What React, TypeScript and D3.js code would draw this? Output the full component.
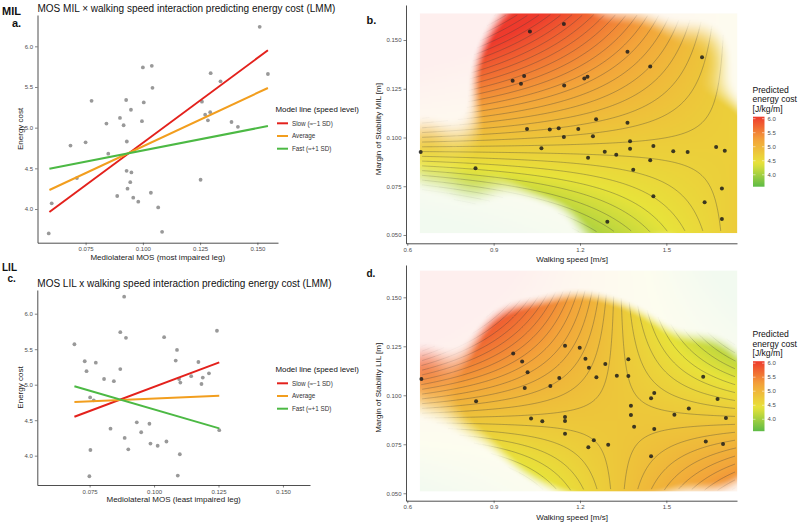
import React, { useEffect, useRef } from 'react';
import * as d3 from 'd3';

// ---------- panel a: MOS of most impaired leg vs energy cost ----------
const mosMil = [
  0.151, 0.1546, 0.1296, 0.1339, 0.1039, 0.1, 0.1042, 0.0776, 0.0927, 0.1004,
  0.0948, 0.1258, 0.1272, 0.1294, 0.1284, 0.09, 0.0841, 0.0916, 0.0996, 0.1387,
  0.1415, 0.093, 0.075, 0.0684, 0.0849, 0.0712, 0.0929, 0.095, 0.0945, 0.0933,
  0.1252, 0.0888, 0.0958, 0.098, 0.1035, 0.0602, 0.1067, 0.0589, 0.1084,
];
const energyMil = [
  6.24, 5.66, 5.67, 5.57, 5.76, 5.74, 5.49, 5.33, 5.34, 5.31,
  5.22, 5.32, 5.16, 5.19, 5.09, 5.12, 5.05, 5.03, 5.08, 5.07,
  5.01, 4.83, 4.82, 4.78, 4.68, 4.38, 4.47, 4.45, 4.33, 4.25,
  4.36, 4.16, 4.14, 4.09, 4.2, 4.07, 4.02, 3.7, 3.72,
];

// ---------- panel c: MOS of least impaired leg vs energy cost ----------
const mosLil = [
  0.0884, 0.0869, 0.0891, 0.1039, 0.1244, 0.0691, 0.1089, 0.0731, 0.1084, 0.0774,
  0.0738, 0.0869, 0.1172, 0.0806, 0.0844, 0.1144, 0.1189, 0.1213, 0.1097, 0.1102,
  0.1184, 0.0752, 0.0766, 0.0831, 0.0933, 0.0982, 0.095, 0.0886, 0.1253, 0.0986,
  0.1014, 0.1048, 0.0753, 0.09, 0.11, 0.0749, 0.1092,
];
const energyLil = [
  6.24, 5.74, 5.66, 5.67, 5.76, 5.57, 5.49, 5.33, 5.34, 5.31,
  5.19, 5.22, 5.32, 5.08, 5.05, 5.12, 5.1, 5.16, 5.08, 5.03,
  5.01, 4.82, 4.78, 4.38, 4.47, 4.45, 4.33, 4.25, 4.36, 4.17,
  4.14, 4.2, 4.08, 4.09, 4.02, 3.71, 3.72,
];

// model lines (speed levels)
const lineLabels = ['Slow (≈−1 SD)', 'Average', 'Fast (≈+1 SD)'];
const lineColors = ['#e3211c', '#f29e1e', '#4cb944'];
const milLineMos = [0.0592, 0.1546];
const milLineEnergy = [
  [3.963, 5.951],
  [4.234, 5.488],
  [4.496, 5.02],
];
const lilLineMos = [0.0691, 0.1253];
const lilLineEnergy = [
  [4.549, 5.315],
  [4.756, 4.845],
  [4.977, 4.385],
];

// ---------- panel b: speed vs MOS MIL ----------
const speedB = [
  1.144, 1.026, 1.365, 1.624, 1.444, 0.966, 1.006, 0.995, 1.215, 1.226,
  1.145, 1.256, 1.365, 1.016, 1.095, 1.126, 1.194, 1.245, 1.144, 1.066,
  1.374, 1.374, 1.455, 1.286, 1.326, 1.228, 0.6465, 1.524, 1.574, 1.673,
  1.703, 1.444, 1.385, 0.837, 1.693, 1.455, 1.633, 1.295, 1.693,
];
const mosB = [
  0.1582, 0.1543, 0.144, 0.1412, 0.1364, 0.1291, 0.1315, 0.1276, 0.1303, 0.1311,
  0.1267, 0.1094, 0.1075, 0.1044, 0.1041, 0.1048, 0.1043, 0.1007, 0.1003, 0.0945,
  0.0981, 0.0942, 0.0957, 0.0927, 0.0912, 0.0896, 0.0925, 0.0929, 0.0925, 0.0951,
  0.0932, 0.0883, 0.0835, 0.0842, 0.0738, 0.0699, 0.0668, 0.0568, 0.0582,
];

// ---------- panel d: speed vs MOS LIL ----------
const speedD = [
  0.649, 0.839, 0.968, 0.999, 1.018, 1.008, 1.097, 1.128, 1.148, 1.199,
  1.219, 1.231, 1.288, 1.257, 1.328, 1.368, 1.368, 1.03, 1.069, 1.148,
  1.148, 1.148, 1.248, 1.229, 1.298, 1.377, 1.377, 1.388, 1.447, 1.458,
  1.458, 1.447, 1.528, 1.578, 1.628, 1.678, 1.707, 1.637, 1.697,
];
const mosD = [
  0.1083, 0.0969, 0.1213, 0.1172, 0.1117, 0.1037, 0.1048, 0.1088, 0.1253, 0.1243,
  0.1187, 0.1141, 0.116, 0.1092, 0.11, 0.1184, 0.1099, 0.0881, 0.0867, 0.0889,
  0.0869, 0.0804, 0.077, 0.0735, 0.0747, 0.0947, 0.09, 0.084, 0.0985, 0.1012,
  0.0828, 0.0689, 0.0901, 0.0932, 0.1095, 0.0981, 0.0884, 0.0764, 0.0752,
];

// fitted interaction surfaces: energy = f0 + k (speed - s0)(mos - m0)
const milSurface = { f0: 4.686, s0: 1.72, m0: 0.094, k: -30.7 };
const lilSurface = { f0: 4.791, s0: 1.33, m0: 0.0872, k: -48.3 };

const colorDomain = [3.575, 4.42, 5.24, 6.07];
const colorRange = ['#5dbb46', '#e8e33a', '#f3a43a', '#ee3a2c'];
const colorTicks = [4.0, 4.5, 5.0, 5.5, 6.0];

const FONT = 'Liberation Sans, Arial, sans-serif';

type Sel = d3.Selection<SVGGElement, unknown, null, undefined>;
type Model = { f0: number; s0: number; m0: number; k: number };

function styleAxis(g: Sel) {
  g.select('.domain').attr('stroke', '#222').attr('stroke-width', 0.8);
  g.selectAll('.tick line').attr('stroke', '#333').attr('stroke-width', 0.6);
  g.selectAll('.tick text')
    .attr('fill', '#4d4d4d')
    .style('font-family', FONT)
    .style('font-size', '6px');
}

function drawScatterPanel(
  root: Sel,
  o: {
    mos: number[];
    energy: number[];
    lineMos: number[];
    lineEnergy: number[][];
    xr: [number, number];
    yr: [number, number];
    xd: [number, number];
    yd: [number, number];
    title: string;
    xLabel: string;
    legendY: number;
  }
) {
  const x = d3.scaleLinear().domain(o.xd).range(o.xr);
  const y = d3.scaleLinear().domain(o.yd).range(o.yr);
  const g = root.append('g');

  g.append('g')
    .attr('transform', `translate(0,${o.yr[0]})`)
    .call(
      d3
        .axisBottom(x)
        .tickValues([0.075, 0.1, 0.125, 0.15])
        .tickFormat(d3.format('.3f'))
        .tickSize(2.5)
        .tickSizeOuter(0)
        .tickPadding(2)
    )
    .call(styleAxis);

  g.append('g')
    .attr('transform', `translate(${o.xr[0]},0)`)
    .call(
      d3
        .axisLeft(y)
        .tickValues([4.0, 4.5, 5.0, 5.5, 6.0])
        .tickFormat(d3.format('.1f'))
        .tickSize(2.5)
        .tickSizeOuter(0)
        .tickPadding(2)
    )
    .call(styleAxis);

  g.append('g')
    .selectAll('circle')
    .data(o.mos)
    .join('circle')
    .attr('cx', (d) => x(d))
    .attr('cy', (_, i) => y(o.energy[i]))
    .attr('r', 1.9)
    .attr('fill', '#999');

  const line = d3
    .line<number>()
    .x((_, i) => x(o.lineMos[i]))
    .y((d) => y(d));
  g.append('g')
    .selectAll('path')
    .data(o.lineEnergy)
    .join('path')
    .attr('d', (d) => line(d))
    .attr('fill', 'none')
    .attr('stroke', (_, i) => lineColors[i])
    .attr('stroke-width', 2);

  // titles
  g.append('text')
    .attr('x', o.xr[0])
    .attr('y', o.yr[1] - 3)
    .style('font-family', FONT)
    .style('font-size', '10px')
    .attr('fill', '#111')
    .text(o.title);
  g.append('text')
    .attr('x', (o.xr[0] + o.xr[1]) / 2)
    .attr('y', o.yr[0] + 17)
    .attr('text-anchor', 'middle')
    .style('font-family', FONT)
    .style('font-size', '8px')
    .attr('fill', '#222')
    .text(o.xLabel);
  const midY = (o.yr[0] + o.yr[1]) / 2;
  g.append('text')
    .attr('transform', `translate(23,${midY}) rotate(-90)`)
    .attr('text-anchor', 'middle')
    .style('font-family', FONT)
    .style('font-size', '8px')
    .attr('fill', '#222')
    .text('Energy cost');

  // legend
  const lg = g.append('g').attr('transform', `translate(275.5,${o.legendY})`);
  lg.append('text')
    .attr('x', 0)
    .attr('y', 3)
    .style('font-family', FONT)
    .style('font-size', '7.9px')
    .attr('fill', '#111')
    .text('Model line (speed level)');
  lineLabels.forEach((lab, i) => {
    const yy = 14.3 + i * 12.7;
    lg.append('line')
      .attr('x1', 1.5)
      .attr('x2', 12.5)
      .attr('y1', yy)
      .attr('y2', yy)
      .attr('stroke', lineColors[i])
      .attr('stroke-width', 2);
    lg.append('text')
      .attr('x', 16.5)
      .attr('y', yy + 2.2)
      .style('font-family', FONT)
      .style('font-size', '6.3px')
      .attr('fill', '#333')
      .text(lab);
  });
}

// kernel density of the observations, used to fade the prediction away from the data
function makeDensity(speeds: number[], moss: number[]) {
  const hs = 0.09;
  const hm = 0.016;
  return (s: number, m: number) => {
    let dens = 0;
    for (let p = 0; p < speeds.length; p++) {
      const a = (s - speeds[p]) / hs;
      const b = (m - moss[p]) / hm;
      dens += Math.exp(-0.5 * (a * a + b * b));
    }
    return dens;
  };
}

function smooth(t: number) {
  const c = Math.min(1, Math.max(0, t));
  return c * c * (3 - 2 * c);
}

function fadeAlpha(dens: number) {
  return 0.08 + 0.92 * smooth((dens - 0.5) / 0.75);
}

function lineAlpha(dens: number) {
  return smooth((dens - 0.45) / 0.85);
}

function predict(model: Model, s: number, m: number) {
  return model.f0 + model.k * (s - model.s0) * (m - model.m0);
}

function buildSurface(
  model: Model,
  dens: (s: number, m: number) => number,
  ext: { s0: number; s1: number; m0: number; m1: number },
  nx: number,
  ny: number,
  color: (v: number) => string
) {
  const fill = document.createElement('canvas');
  fill.width = nx;
  fill.height = ny;
  const fctx = fill.getContext('2d')!;
  const fimg = fctx.createImageData(nx, ny);
  const values: number[] = new Array(nx * ny);
  for (let j = 0; j < ny; j++) {
    const m = ext.m1 - ((j + 0.5) / ny) * (ext.m1 - ext.m0);
    for (let i = 0; i < nx; i++) {
      const s = ext.s0 + ((i + 0.5) / nx) * (ext.s1 - ext.s0);
      const f = predict(model, s, m);
      const idx = j * nx + i;
      values[idx] = f;
      const al = fadeAlpha(dens(s, m));
      const c = d3.rgb(color(f));
      // blend over the white page so the image itself is opaque
      fimg.data[idx * 4] = Math.round(255 - al * (255 - c.r));
      fimg.data[idx * 4 + 1] = Math.round(255 - al * (255 - c.g));
      fimg.data[idx * 4 + 2] = Math.round(255 - al * (255 - c.b));
      fimg.data[idx * 4 + 3] = 255;
    }
  }
  fctx.putImageData(fimg, 0, 0);
  return { fillUrl: fill.toDataURL(), values };
}

function drawSurfacePanel(
  root: Sel,
  defs: d3.Selection<SVGDefsElement, unknown, null, undefined>,
  o: {
    id: string;
    model: Model;
    speeds: number[];
    moss: number[];
    yr: [number, number];
    yd: [number, number];
    yLabel: string;
    legendTop: number;
  }
) {
  const x = d3.scaleLinear().domain([0.5955, 1.7455]).range([406, 737]);
  const y = d3.scaleLinear().domain(o.yd).range(o.yr);
  const color = d3
    .scaleLinear<string>()
    .domain(colorDomain)
    .range(colorRange)
    .interpolate(d3.interpolateRgb)
    .clamp(true);
  const ext = { s0: 0.644, s1: 1.746, m0: 0.051, m1: 0.1636 };
  const nx = 220;
  const ny = 150;
  const dens = makeDensity(o.speeds, o.moss);
  const surf = buildSurface(o.model, dens, ext, nx, ny, color);
  const rx0 = x(ext.s0);
  const rx1 = x(ext.s1);
  const ry0 = y(ext.m1);
  const ry1 = y(ext.m0);
  const g = root.append('g');

  g.append('image')
    .attr('href', surf.fillUrl)
    .attr('x', rx0)
    .attr('y', ry0)
    .attr('width', rx1 - rx0)
    .attr('height', ry1 - ry0)
    .attr('preserveAspectRatio', 'none');

  // contour lines of the prediction, fading out where the data thin out
  const levels = d3.range(-30, 31).map((i) => o.model.f0 + 0.04 + i * 0.08);
  const contours = d3.contours().size([nx, ny]).thresholds(levels)(surf.values);
  type Seg = { pts: [number, number][]; op: number };
  const segs: Seg[] = [];
  contours.forEach((c) =>
    c.coordinates.forEach((poly) =>
      poly.forEach((ring) => {
        let cur: Seg | null = null;
        const flush = () => {
          if (cur && cur.pts.length > 1) segs.push(cur);
          cur = null;
        };
        ring.forEach(([gx, gy]) => {
          const inside = gx > 0.7 && gx < nx - 0.7 && gy > 0.7 && gy < ny - 0.7;
          const s = ext.s0 + (gx / nx) * (ext.s1 - ext.s0);
          const m = ext.m1 - (gy / ny) * (ext.m1 - ext.m0);
          const q = inside ? Math.round(lineAlpha(dens(s, m)) * 10) / 10 : 0;
          if (q <= 0) {
            flush();
            return;
          }
          const p: [number, number] = [x(s), y(m)];
          if (cur && cur.op === q) {
            cur.pts.push(p);
            return;
          }
          if (cur) {
            cur.pts.push(p);
            flush();
          }
          cur = { pts: [p], op: q };
        });
        flush();
      })
    )
  );
  g.append('g')
    .selectAll('path')
    .data(segs)
    .join('path')
    .attr('d', (d) => d3.line()(d.pts))
    .attr('fill', 'none')
    .attr('stroke', '#3c3c3c')
    .attr('stroke-opacity', (d) => 0.58 * d.op)
    .attr('stroke-width', 0.6);

  g.append('g')
    .selectAll('circle')
    .data(o.speeds)
    .join('circle')
    .attr('cx', (d) => x(d))
    .attr('cy', (_, i) => y(o.moss[i]))
    .attr('r', 2)
    .attr('fill', '#1c1c1c')
    .attr('fill-opacity', 0.85);

  g.append('g')
    .attr('transform', `translate(0,${o.yr[0]})`)
    .call(
      d3
        .axisBottom(x)
        .tickValues([0.6, 0.9, 1.2, 1.5])
        .tickFormat(d3.format('.1f'))
        .tickSize(2.5)
        .tickSizeOuter(0)
        .tickPadding(2)
    )
    .call(styleAxis);
  g.append('g')
    .attr('transform', 'translate(406,0)')
    .call(
      d3
        .axisLeft(y)
        .tickValues([0.05, 0.075, 0.1, 0.125, 0.15])
        .tickFormat(d3.format('.3f'))
        .tickSize(2.5)
        .tickSizeOuter(0)
        .tickPadding(2)
    )
    .call(styleAxis);

  g.append('text')
    .attr('x', 572)
    .attr('y', o.yr[0] + 19)
    .attr('text-anchor', 'middle')
    .style('font-family', FONT)
    .style('font-size', '8px')
    .attr('fill', '#222')
    .text('Walking speed [m/s]');
  g.append('text')
    .attr('transform', `translate(381,${(o.yr[0] + o.yr[1]) / 2 + 5}) rotate(-90)`)
    .attr('text-anchor', 'middle')
    .style('font-family', FONT)
    .style('font-size', '8px')
    .attr('fill', '#222')
    .text(o.yLabel);

  // colour legend
  const lt = o.legendTop;
  ['Predicted', 'energy cost', '[J/kg/m]'].forEach((t, i) => {
    g.append('text')
      .attr('x', 752.5)
      .attr('y', lt + i * 9.6)
      .style('font-family', FONT)
      .style('font-size', '8.6px')
      .attr('fill', '#111')
      .text(t);
  });
  const barTop = lt + 24.2;
  const barBottom = barTop + 70;
  const by = d3.scaleLinear().domain([colorDomain[0], colorDomain[3]]).range([barBottom, barTop]);
  const grad = defs
    .append('linearGradient')
    .attr('id', `${o.id}-grad`)
    .attr('x1', 0)
    .attr('x2', 0)
    .attr('y1', 1)
    .attr('y2', 0);
  d3.range(0, 1.0001, 0.05).forEach((t) => {
    const v = colorDomain[0] + t * (colorDomain[3] - colorDomain[0]);
    grad.append('stop').attr('offset', t).attr('stop-color', color(v));
  });
  g.append('rect')
    .attr('x', 753)
    .attr('y', barTop)
    .attr('width', 11.5)
    .attr('height', barBottom - barTop)
    .attr('fill', `url(#${o.id}-grad)`);
  colorTicks.forEach((v) => {
    g.append('line')
      .attr('x1', 753)
      .attr('x2', 755.5)
      .attr('y1', by(v))
      .attr('y2', by(v))
      .attr('stroke', '#fff')
      .attr('stroke-width', 0.5);
    g.append('line')
      .attr('x1', 762)
      .attr('x2', 764.5)
      .attr('y1', by(v))
      .attr('y2', by(v))
      .attr('stroke', '#fff')
      .attr('stroke-width', 0.5);
    g.append('text')
      .attr('x', 767.5)
      .attr('y', by(v) + 2.1)
      .style('font-family', FONT)
      .style('font-size', '6px')
      .attr('fill', '#4d4d4d')
      .text(d3.format('.1f')(v));
  });
}

function panelLabel(root: Sel, x: number, y: number, t: string, size: number) {
  root
    .append('text')
    .attr('x', x)
    .attr('y', y)
    .style('font-family', FONT)
    .style('font-size', `${size}px`)
    .style('font-weight', 'bold')
    .attr('fill', '#111')
    .text(t);
}

const App: React.FC = () => {
  const svgRef = useRef<SVGSVGElement>(null);

  useEffect(() => {
    if (!svgRef.current) return;
    document.body.style.margin = '0';
    const svg = d3.select(svgRef.current);
    svg.selectAll('*').remove();
    const defs = svg.append('defs');
    const root = svg.append('g') as unknown as Sel;

    drawScatterPanel(root, {
      mos: mosMil,
      energy: energyMil,
      lineMos: milLineMos,
      lineEnergy: milLineEnergy,
      xr: [37.5, 278],
      yr: [242.7, 15],
      xd: [0.054, 0.159],
      yd: [3.586, 6.385],
      title: 'MOS MIL × walking speed interaction predicting energy cost (LMM)',
      xLabel: 'Mediolateral MOS (most impaired leg)',
      legendY: 109,
    });
    drawScatterPanel(root, {
      mos: mosLil,
      energy: energyLil,
      lineMos: lilLineMos,
      lineEnergy: lilLineEnergy,
      xr: [37.3, 310],
      yr: [485, 290],
      xd: [0.0547, 0.1605],
      yd: [3.587, 6.334],
      title: 'MOS LIL x walking speed interaction predicting energy cost (LMM)',
      xLabel: 'Mediolateral MOS (least impaired leg)',
      legendY: 369,
    });

    drawSurfacePanel(root, defs, {
      id: 'mil',
      model: milSurface,
      speeds: speedB,
      moss: mosB,
      yr: [243.3, 5],
      yd: [0.04574, 0.16795],
      yLabel: 'Margin of Stability MIL [m]',
      legendTop: 92.5,
    });
    drawSurfacePanel(root, defs, {
      id: 'lil',
      model: lilSurface,
      speeds: speedD,
      moss: mosD,
      yr: [500.7, 265],
      yd: [0.0462, 0.1665],
      yLabel: 'Margin of Stability LIL [m]',
      legendTop: 337,
    });

    panelLabel(root, 2, 15, 'MIL', 11);
    panelLabel(root, 12, 26.5, 'a.', 11);
    panelLabel(root, 366.5, 24.3, 'b.', 11);
    panelLabel(root, 2, 270.7, 'LIL', 10);
    panelLabel(root, 7.5, 281.7, 'c.', 10);
    panelLabel(root, 366.5, 277.3, 'd.', 10);
  }, []);

  return (
    <svg
      ref={svgRef}
      width={800}
      height={524}
      style={{ display: 'block', background: '#fff' }}
    />
  );
};

export default App;
